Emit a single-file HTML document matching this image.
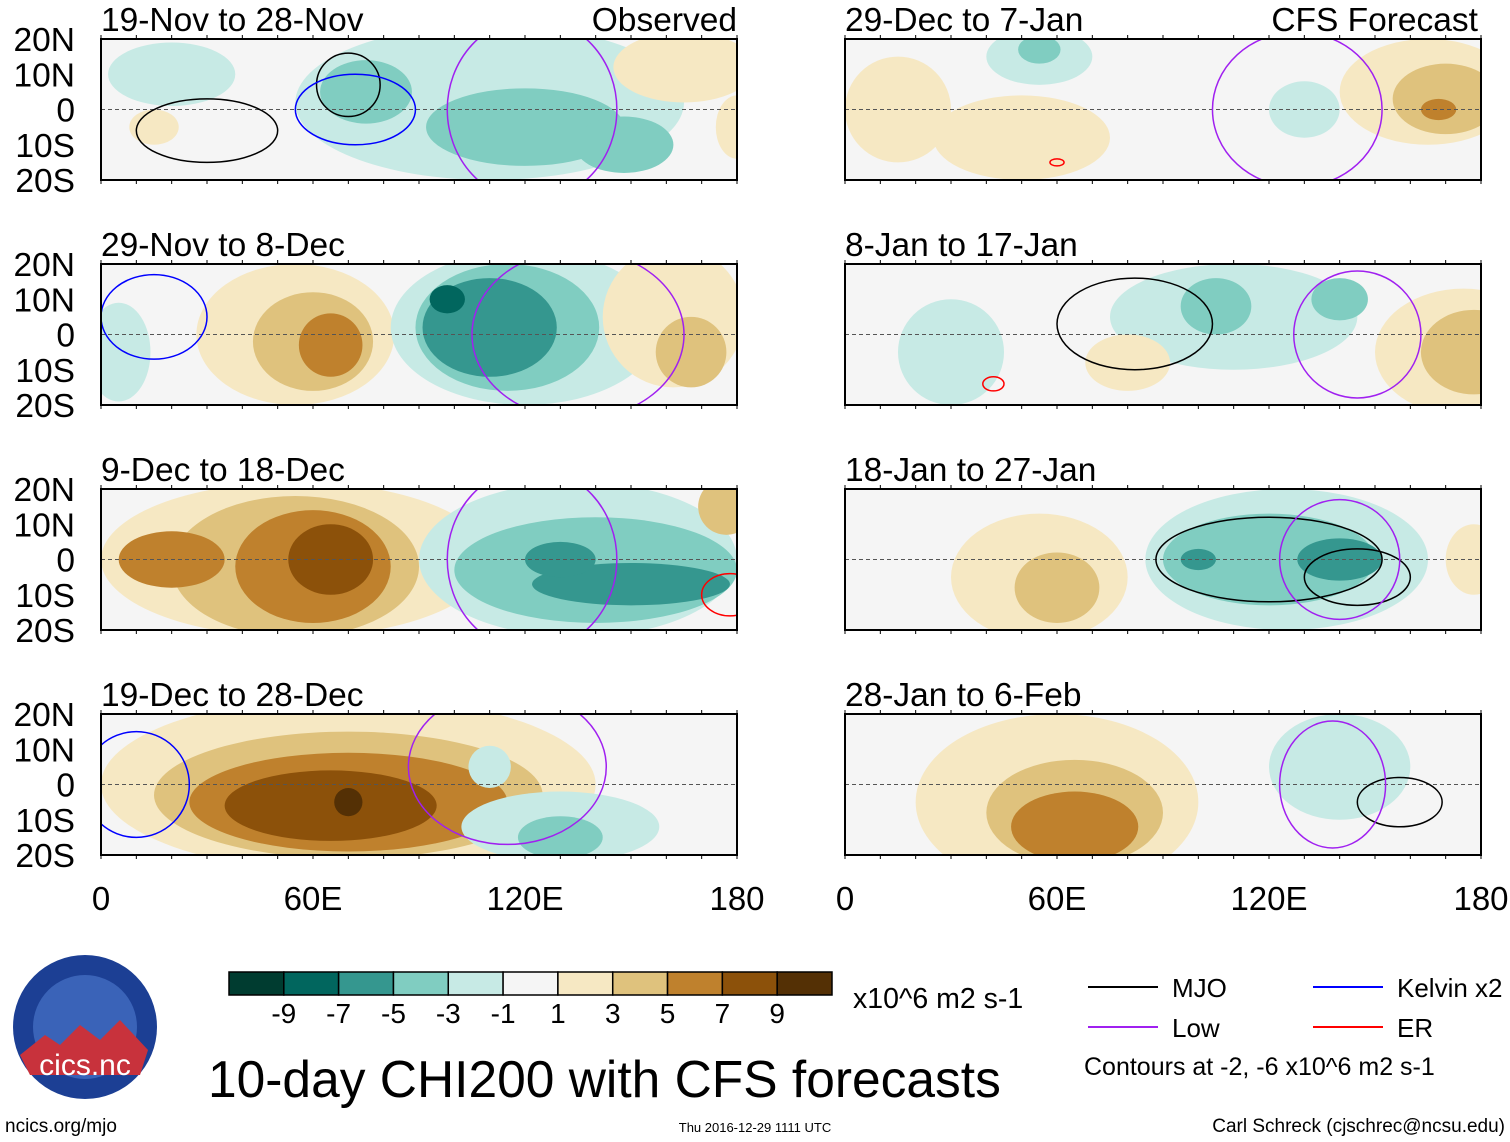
<!DOCTYPE html>
<html><head><meta charset="utf-8"><style>
body{margin:0;background:#fff;}
svg{display:block;font-family:"Liberation Sans",sans-serif;}
</style></head><body>
<svg id="chart" width="1510" height="1142" viewBox="0 0 1510 1142"></svg>
<script>
// ---- data ----
const levelColors = ["#003c30","#01665e","#35978f","#80cdc1","#c7eae5","#f5f5f5","#f6e8c3","#dfc27d","#bf812d","#8c510a","#543005"];
const levelTicks = ["-9","-7","-5","-3","-1","1","3","5","7","9"];
const latTicks = ["20N","10N","0","10S","20S"];
const latValues = [20,10,0,-10,-20];
const lonTicks = ["0","60E","120E","180"];
const lonValues = [0,60,120,180];
const panelTitles = ["19-Nov to 28-Nov","29-Nov to 8-Dec","9-Dec to 18-Dec","19-Dec to 28-Dec","29-Dec to 7-Jan","8-Jan to 17-Jan","18-Jan to 27-Jan","28-Jan to 6-Feb"];
// field blobs: [lon, lat, rxDeg, ryDeg, value]
const p1Field = [[20,10,18,9,-2],[110,2,55,22,-2],[120,-5,28,11,-4],[75,5,13,9,-4],[148,-10,14,8,-4],[165,12,20,10,2],[180,-5,6,9,2],[15,-5,7,5,2]];
const p2Field = [[5,-5,9,14,-2],[55,0,28,20,2],[60,-2,17,14,4],[65,-3,9,9,6],[120,2,38,22,-2],[115,2,26,18,-4],[110,2,19,14,-6],[98,10,5,4,-8],[162,5,20,20,2],[167,-5,10,10,4]];
const p3Field = [[55,0,55,22,2],[55,-2,35,20,4],[60,-2,22,16,6],[20,0,15,8,6],[65,0,12,10,8],[135,0,45,22,-2],[140,-3,40,15,-4],[150,-7,28,6,-6],[130,0,10,5,-6],[177,15,8,8,4]];
const p4Field = [[70,0,70,25,2],[70,-3,55,18,4],[70,-5,45,14,6],[65,-6,30,10,8],[70,-5,4,4,10],[110,5,6,6,-2],[130,-12,28,10,-2],[130,-15,12,6,-4]];
const r1Field = [[15,0,15,15,2],[50,-8,25,12,2],[165,5,25,15,2],[170,3,15,10,4],[168,0,5,3,6],[55,15,15,8,-2],[55,17,6,4,-4],[130,0,10,8,-2]];
const r2Field = [[30,-5,15,15,-2],[110,5,35,15,-2],[105,8,10,8,-4],[140,10,8,6,-4],[80,-8,12,8,2],[175,-5,25,18,2],[178,-5,15,12,4]];
const r3Field = [[55,-5,25,18,2],[60,-8,12,10,4],[178,0,8,10,2],[125,0,40,20,-2],[120,0,30,13,-4],[140,0,12,6,-6],[100,0,5,3,-6]];
const r4Field = [[60,-5,40,25,2],[65,-8,25,15,4],[65,-12,18,10,6],[140,5,20,15,-2]];
const panelFields = [p1Field,p2Field,p3Field,p4Field,r1Field,r2Field,r3Field,r4Field];
// contours: [lon, lat, rxDeg, ryDeg, kind]
const p1Lines = [[70,7,9,9,"mjo"],[30,-6,20,9,"mjo"],[72,0,17,10,"kelvin"],[122,0,24,26,"low"]];
const p2Lines = [[15,5,15,12,"kelvin"],[135,0,30,24,"low"]];
const p3Lines = [[122,0,24,26,"low"],[178,-10,8,6,"er"]];
const p4Lines = [[115,5,28,22,"low"],[10,0,15,15,"kelvin"]];
const r1Lines = [[128,0,24,22,"low"],[60,-15,2,1,"er"]];
const r2Lines = [[82,3,22,13,"mjo"],[145,0,18,18,"low"],[42,-14,3,2,"er"]];
const r3Lines = [[120,0,32,12,"mjo"],[145,-5,15,8,"mjo"],[140,0,17,17,"low"]];
const r4Lines = [[157,-5,12,7,"mjo"],[138,0,15,18,"low"]];
const panelLines = [p1Lines,p2Lines,p3Lines,p4Lines,r1Lines,r2Lines,r3Lines,r4Lines];
const lineColors = {mjo:"#000",low:"#a020f0",kelvin:"#0000ff",er:"#ff0000"};

// ---- drawing ----
const NS="http://www.w3.org/2000/svg";
const svg=document.getElementById('chart');
function mk(tag,attrs,parent){const e=document.createElementNS(NS,tag);for(const k in attrs)e.setAttribute(k,attrs[k]);(parent||svg).appendChild(e);return e;}
function colorFor(v){let i=Math.floor((v+11)/2);if(i<0)i=0;if(i>10)i=10;return levelColors[i];}
const W=636,H=141;
const panelX=[101,101,101,101,845,845,845,845];
const panelY=[39,264,489,714,39,264,489,714];
for(let p=0;p<8;p++){
  const x0=panelX[p],y0=panelY[p];
  const xs=lon=>x0+lon/180*W, ys=lat=>y0+(20-lat)/40*H;
  const g=mk('g',{});
  
  
  const cp=mk('clipPath',{id:'cp'+p},g);
  mk('rect',{x:x0,y:y0,width:W,height:H},cp);
  const inner=mk('g',{'clip-path':'url(#cp'+p+')'},g);
  mk('rect',{x:x0,y:y0,width:W,height:H,fill:levelColors[5]},inner);
  panelFields[p].forEach(b=>{
    const e=mk('ellipse',{cx:xs(b[0]),cy:ys(b[1]),rx:b[2]/180*W,ry:b[3]/40*H,fill:colorFor(b[4])},inner);
    
    
  });
  mk('line',{x1:x0,x2:x0+W,y1:ys(0),y2:ys(0),stroke:'#555','stroke-dasharray':'4,3','stroke-width':1},inner);
  panelLines[p].forEach(c=>{
    const e=mk('ellipse',{cx:xs(c[0]),cy:ys(c[1]),rx:c[2]/180*W,ry:c[3]/40*H,fill:'none',stroke:lineColors[c[4]],'stroke-width':1.5},inner);
    
    
  });
  mk('rect',{x:x0,y:y0,width:W,height:H,fill:'none',stroke:'#000','stroke-width':2},g);
  for(let l=0;l<=180;l+=10){mk('line',{x1:xs(l),x2:xs(l),y1:y0,y2:y0-4,stroke:'#000'},g);mk('line',{x1:xs(l),x2:xs(l),y1:y0+H,y2:y0+H+4,stroke:'#000'},g);}
  const t=mk('text',{x:x0,y:y0-8,'font-size':33.5},g);t.textContent=panelTitles[p];
  
  if(p<4){latTicks.forEach((s,i)=>{const tt=mk('text',{x:75,y:ys(latValues[i])+12,'font-size':33.5,'text-anchor':'end'},g);tt.textContent=s;});}
  if(p===3||p===7){lonTicks.forEach((s,i)=>{const tt=mk('text',{x:xs(lonValues[i]),y:910,'font-size':33,'text-anchor':'middle'},g);tt.textContent=s;});}
}
let tt=mk('text',{x:737,y:31,'font-size':33.5,'text-anchor':'end'});tt.textContent='Observed';
tt=mk('text',{x:1478,y:31,'font-size':33.5,'text-anchor':'end'});tt.textContent='CFS Forecast';
// colorbar
const cb=mk('g',{});
const bw=603/11;
levelColors.forEach((c,i)=>mk('rect',{x:229+i*bw,y:972,width:bw,height:23,fill:c,stroke:'#000','stroke-width':1.5},cb));
levelTicks.forEach((s,i)=>{const t=mk('text',{x:229+(i+1)*bw,y:1023,'font-size':28,'text-anchor':'middle'},cb);t.textContent=s;});
tt=mk('text',{x:853,y:1008,'font-size':28.5});tt.textContent='x10^6 m2 s-1';
// legend
const lg=mk('g',{});
[[1088,987,'#000','MJO'],[1313,987,'#0000ff','Kelvin x2'],[1088,1027,'#a020f0','Low'],[1313,1027,'#ff0000','ER']].forEach(a=>{
  mk('line',{x1:a[0],x2:a[0]+70,y1:a[1],y2:a[1],stroke:a[2],'stroke-width':2},lg);
  const t=mk('text',{x:a[0]+84,y:a[1]+10,'font-size':26},lg);t.textContent=a[3];});
tt=mk('text',{x:1084,y:1075,'font-size':25});tt.textContent='Contours at -2, -6 x10^6 m2 s-1';
tt=mk('text',{x:208,y:1097,'font-size':51.5});tt.textContent='10-day CHI200 with CFS forecasts';

// logo
const lo=mk('g',{});
mk('circle',{cx:85,cy:1027,r:72,fill:'#1c3f94'},lo);
mk('circle',{cx:85,cy:1027,r:52,fill:'#3a63b8'},lo);
mk('path',{d:'M20,1055 L45,1035 L60,1045 L80,1025 L100,1040 L120,1020 L148,1050 L140,1075 L30,1075 Z',fill:'#c8323c'},lo);
tt=mk('text',{x:85,y:1075,'font-size':30,'text-anchor':'middle',fill:'#fff'},lo);tt.textContent='cics.nc';
tt=mk('text',{x:5,y:1132,'font-size':19});tt.textContent='ncics.org/mjo';
tt=mk('text',{x:755,y:1132,'font-size':13,'text-anchor':'middle'});tt.textContent='Thu 2016-12-29 1111 UTC';
tt=mk('text',{x:1505,y:1132,'font-size':19,'text-anchor':'end'});tt.textContent='Carl Schreck (cjschrec@ncsu.edu)';
</script>
</body></html>
